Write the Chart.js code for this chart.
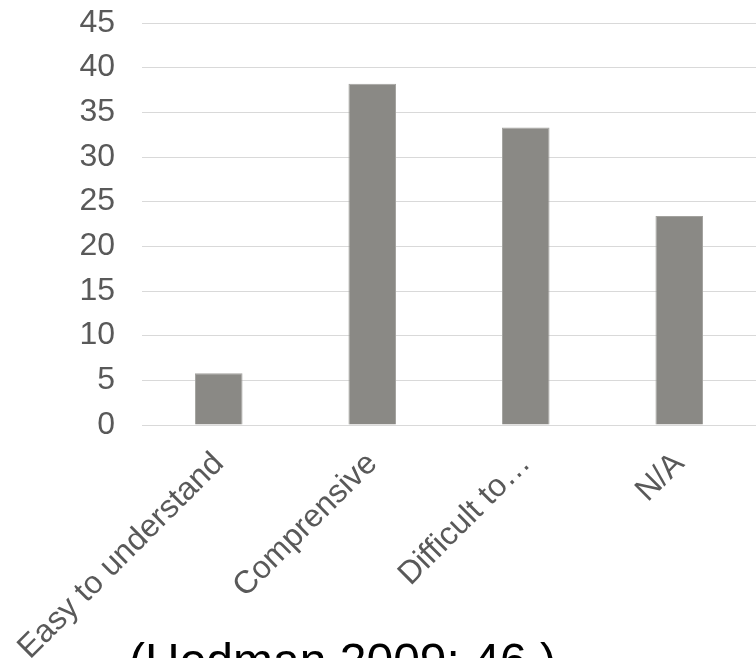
<!DOCTYPE html>
<html>
<head>
<meta charset="utf-8">
<script src="https://cdn.jsdelivr.net/npm/chart.js@4/dist/chart.umd.min.js"></script>
<style>
  html, body { margin: 0; padding: 0; background: #fff; overflow: hidden; }
  #wrap { position: relative; width: 756px; height: 658px; }
  #source {
    position: absolute; left: 129px; top: 637px;
    font-family: "Liberation Sans", Arial, sans-serif;
    font-size: 48px; line-height: 48px; color: #000; white-space: nowrap;
  }
</style>
</head>
<body>
<div id="wrap">
  <canvas id="myChart" width="756" height="658"></canvas>
  <div id="source">(Hedman 2009: 46.)</div>
</div>
<script>
  const categories = ['Easy to understand', 'Comprensive', 'Difficult to…', 'N/A'];
  const values = [5.8, 38.2, 33.3, 23.4];
  const yTicks = [0, 5, 10, 15, 20, 25, 30, 35, 40, 45];

  const labelFont = { family: '"Liberation Sans", Arial, sans-serif', size: 32 };

  const ctx = document.getElementById('myChart').getContext('2d');
  const chart = new Chart(ctx, {
    type: 'bar',
    data: {
      labels: categories,
      datasets: [{
        data: values,
        backgroundColor: '#8a8985',
        borderColor: '#a3a29e',
        borderWidth: 1,
        barPercentage: 1,
        categoryPercentage: 0.31
      }]
    },
    options: {
      responsive: false,
      animation: false,
      layout: { padding: 0 },
      plugins: {
        legend: { display: false },
        tooltip: { enabled: false }
      },
      scales: {
        x: {
          grid: { display: false },
          border: { display: false },
          ticks: {
            color: '#595959',
            font: labelFont,
            minRotation: 45,
            maxRotation: 45,
            padding: 12
          },
          afterFit: function(scale) {
            scale.height = 233;
            // rotated labels may hang left of the plot, don't shrink it
            scale.paddingLeft = 0;
            scale.paddingRight = 0;
          }
        },
        y: {
          min: 0,
          max: 45,
          afterBuildTicks: function(scale) {
            scale.ticks = yTicks.map(v => ({ value: v }));
          },
          grid: { color: '#d9d9d9', lineWidth: 1, drawTicks: false },
          border: { display: false },
          ticks: {
            color: '#595959',
            font: labelFont,
            padding: 27
          },
          afterFit: function(scale) {
            scale.width = 142;
            // keep the tick padding from pushing the plot down
            scale.paddingTop = 23;
            scale.paddingBottom = 0;
          }
        }
      }
    }
  });
</script>
</body>
</html>
